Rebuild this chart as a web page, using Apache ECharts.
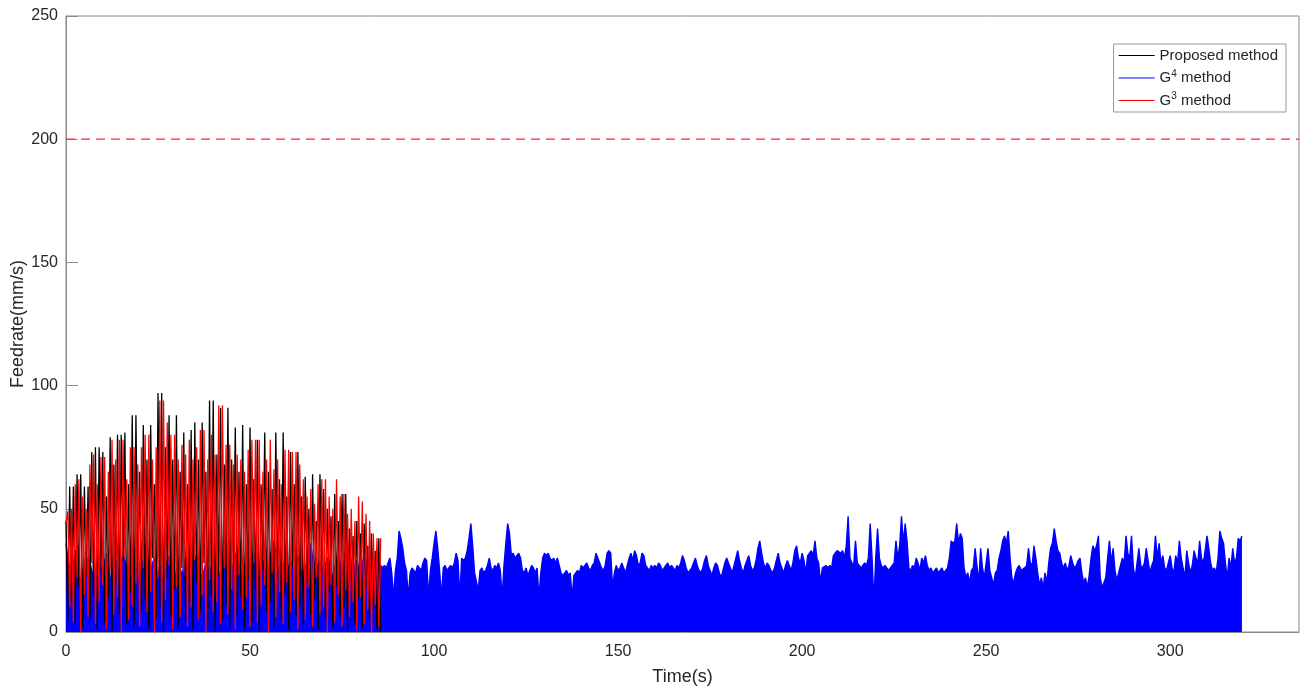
<!DOCTYPE html>
<html><head><meta charset="utf-8">
<script src="https://cdn.jsdelivr.net/npm/echarts@6/dist/echarts.min.js"></script>
<style>html,body{margin:0;padding:0;background:#fff}#c{width:1306px;height:687px}</style>
</head><body><div id="c"></div>
<script>
// ---- data ----
const STEP = 0.5; // seconds between samples
const xMax = 335, yMax = 250, xInterval = 50, yInterval = 50;
const limitValue = 200;

// Proposed method: peaks at whole seconds, troughs half a second later
const blackPeaks = [45,59,59,64,64,59,59,73,75,75, 73,55,79,68,80,80,81,60,88,88,
  65,84,70,84,60,97,97,75,88,70, 88,65,81,60,82,85,70,85,65,94,
  94,72,91,68,91,70,83,65,84,60, 83,62,78,60,81,65,58,81,62,81,
  55,73,60,73,55,63,50,64,45,64, 58,50,47,56,45,56,56,42,39,45,
  40,44,35,40,33,38];
const blackTroughs = [5,12,3,18,2,22,6,15,1,25, 4,14,0,20,7,28,3,16,2,24,
  8,13,1,30,5,10,0,22,6,17, 2,26,4,12,1,20,7,28,3,15,
  0,23,5,11,2,27,6,14,1,21, 4,17,0,25,8,12,2,22,5,15,
  1,26,6,11,3,20,7,13,1,24, 5,16,2,19,6,10,1,21,4,14,
  2,18,5,9,1,0];

// G3 method: starts at 44, peaks at half seconds, troughs at whole seconds
const redStart = 44;
const redPeaks = [49,50,60,62,55,50,68,72,60,71, 71,65,78,70,78,78,62,75,75,68,
  75,80,80,70,75,94,94,85,80,80, 70,76,72,78,70,75,82,82,70,80,
  72,92,92,76,76,68,72,70,65,74, 78,78,78,65,70,78,66,70,60,74,
  74,73,73,68,62,55,58,52,60,62, 62,55,50,62,55,56,48,50,45,55,
  53,48,45,40,38,38];
const redTroughs = [10,4,22,0,15,6,28,3,12,19, 1,25,7,14,0,30,5,11,20,2,
  26,8,16,0,22,4,13,27,1,18, 6,24,2,10,29,5,15,0,21,8,
  12,3,26,7,17,1,23,9,14,2, 28,4,11,19,0,24,6,16,3,20,
  8,13,1,25,5,18,2,22,7,10, 0,19,4,15,2,17,6,12,1,14,
  3,9,0,11,2];

// G4 method: upper envelope of the dense trace, every 0.5 s from 0 to 319.5 s
const blueEnvelope = [
  36,30,26,24,28,33,30,22,20,24,27,22,30,28,25,22,24,28,30,26,
  24,28,32,30,22,20,26,29,27,22,28,31,29,25,22,27,30,33,28,24,
  22,26,29,27,24,20,25,28,30,26,23,27,24,22,26,29,31,27,24,22,
  25,28,26,23,27,30,28,24,22,26,29,32,28,24,22,25,28,26,23,27,
  29,31,27,24,22,26,30,28,24,21,25,28,31,33,28,24,22,26,29,27,
  24,28,32,30,26,23,27,29,26,22,25,30,34,37,32,27,24,26,28,25,
  22,26,29,27,24,27,31,28,25,22,26,29,33,36,30,26,24,27,29,26,
  23,27,30,28,24,22,26,29,31,27,24,28,32,35,30,26,23,27,29,26,
  24,28,31,29,25,30,33,28,27,26,28,27,26,27,26,28,30,24,14,25,
  30,41,38,34,28,25,14,24,26,25,24,27,26,25,28,30,29,14,25,30,
  36,41,34,25,14,26,27,25,26,27,26,28,32,29,14,30,29,30,33,38,
  44,35,24,24,17,25,26,24,25,27,30,26,25,27,26,28,25,14,27,36,
  44,40,31,32,30,31,32,30,25,24,26,23,25,27,26,24,26,14,24,30,
  32,31,32,30,29,30,28,30,27,24,23,24,25,23,24,14,23,24,25,24,
  27,26,27,28,26,25,27,28,32,30,28,26,25,27,32,33,32,18,24,27,
  25,26,28,26,24,27,30,32,29,33,31,27,28,32,31,27,26,25,27,26,
  27,26,28,27,25,26,27,28,26,27,26,25,27,26,28,31,29,26,24,25,
  26,28,30,27,25,24,26,29,31,27,25,23,26,28,27,24,22,25,28,30,
  28,26,24,27,30,33,29,26,24,27,29,31,27,25,26,29,34,37,32,28,
  26,28,27,25,24,26,29,32,28,26,24,27,29,27,25,28,33,35,30,28,
  32,29,24,31,32,33,31,37,30,28,20,26,26,27,26,27,26,31,32,33,
  33,32,33,30,35,47,30,28,27,37,28,27,26,27,28,27,30,44,30,12,
  30,42,30,27,26,27,26,25,26,27,28,37,30,35,47,36,44,37,26,25,
  27,26,30,28,25,30,28,31,27,25,26,24,25,26,24,25,26,24,25,26,
  30,37,36,37,44,36,40,38,26,22,24,20,25,26,34,27,20,34,26,22,
  22,34,25,22,19,24,25,30,33,37,39,36,41,30,22,20,24,26,27,25,
  25,26,27,34,28,27,35,30,24,19,22,18,24,20,28,34,36,42,37,33,
  32,28,26,28,25,27,31,28,26,27,29,30,24,20,22,18,23,30,35,33,
  35,39,22,18,20,22,30,37,28,34,25,21,24,27,30,28,39,32,30,39,
  26,22,28,34,27,26,28,34,29,24,27,29,39,30,36,28,31,26,25,28,
  31,26,24,31,28,37,30,26,22,33,28,24,27,33,30,28,37,30,28,33,
  39,34,28,25,26,24,30,41,38,36,28,22,30,26,34,28,30,38,37,39
];

// ---- build series data ----
const blackData = [];
blackPeaks.forEach((p, i) => { blackData.push([i, p]); blackData.push([i + STEP, blackTroughs[i]]); });
const redData = [[0, redStart]];
redPeaks.forEach((p, i) => { redData.push([i + STEP, p]); if (i < redTroughs.length) redData.push([i + 1, redTroughs[i]]); });
const blueData = blueEnvelope.map((v, i) => [i * STEP, v]);
const limitData = [[0, limitValue], [xMax, limitValue]];

const FONT = "'Liberation Sans', Arial, Helvetica, sans-serif";
const TXT = '#262626';
const AX = '#8a8a8a';

const chart = echarts.init(document.getElementById('c'), null, {renderer: 'canvas'});
chart.setOption({
  animation: false,
  backgroundColor: '#fff',
  textStyle: {fontFamily: FONT},
  grid: {left: 66, right: 7, top: 16, bottom: 55, containLabel: false, outerBoundsMode: 'none',
    show: true, borderColor: AX, borderWidth: 1, backgroundColor: 'transparent'},
  legend: {
    orient: 'vertical', right: 20, top: 44,
    data: ['Proposed method', 'G4 method', 'G3 method'],
    icon: 'rect', itemWidth: 36, itemHeight: 1.2, itemGap: 6,
    padding: [4, 8, 4, 5],
    borderColor: '#999', borderWidth: 1, backgroundColor: '#fff',
    formatter: function (name) {
      if (name === 'G4 method') return '{t|G}{s|4}{t| method}';
      if (name === 'G3 method') return '{t|G}{s|3}{t| method}';
      return '{t|' + name + '}';
    },
    textStyle: {
      rich: {
        t: {fontSize: 15, lineHeight: 18, color: TXT, fontFamily: FONT},
        s: {fontSize: 10, lineHeight: 10, verticalAlign: 'top', color: TXT, fontFamily: FONT}
      }
    }
  },
  xAxis: {
    type: 'value', min: 0, max: xMax, interval: xInterval,
    name: 'Time(s)', nameLocation: 'middle', nameGap: 36, nameMoveOverlap: false,
    nameTextStyle: {fontSize: 18, color: TXT, fontFamily: FONT},
    axisLine: {show: true, lineStyle: {color: AX, width: 1}},
    axisTick: {show: true, inside: true, length: 12, lineStyle: {color: AX}},
    axisLabel: {fontSize: 16, color: TXT, margin: 12, fontFamily: FONT, showMaxLabel: false},
    splitLine: {show: false}
  },
  yAxis: {
    type: 'value', min: 0, max: yMax, interval: yInterval,
    name: 'Feedrate(mm/s)', nameLocation: 'middle', nameGap: 39, nameMoveOverlap: false,
    nameTextStyle: {fontSize: 18, color: TXT, fontFamily: FONT},
    axisLine: {show: true, lineStyle: {color: AX, width: 1}},
    axisTick: {show: true, inside: true, length: 12, lineStyle: {color: AX}},
    axisLabel: {fontSize: 16, color: TXT, margin: 8, fontFamily: FONT},
    splitLine: {show: false}
  },
  series: [
    {
      name: 'limit', type: 'line', data: limitData, showSymbol: false, symbol: 'none', silent: true,
      lineStyle: {color: '#ff2a2a', type: [9, 6], width: 1.2}, itemStyle: {color: '#ff2a2a'}, z: 1
    },
    {
      name: 'G4 method', type: 'line', data: blueData, showSymbol: false, symbol: 'none',
      lineStyle: {color: '#0000ff', width: 1.4}, itemStyle: {color: '#0000ff'},
      areaStyle: {color: '#0000ff', opacity: 1}, z: 2
    },
    {
      name: 'Proposed method', type: 'line', data: blackData, showSymbol: false, symbol: 'none',
      lineStyle: {color: '#000000', width: 1.3}, itemStyle: {color: '#000000'}, z: 3
    },
    {
      name: 'G3 method', type: 'line', data: redData, showSymbol: false, symbol: 'none',
      lineStyle: {color: '#ff0000', width: 1.3}, itemStyle: {color: '#ff0000'}, z: 4
    }
  ]
});
</script>
</body></html>
